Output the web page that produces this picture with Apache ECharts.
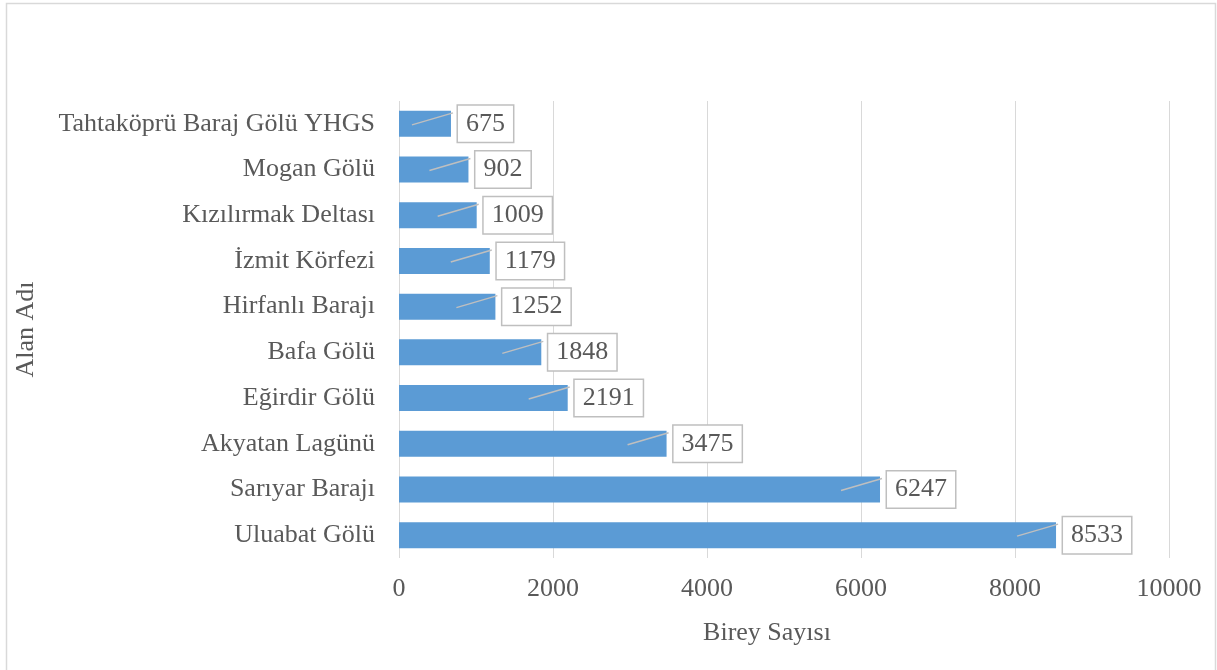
<!DOCTYPE html>
<html>
<head>
<meta charset="utf-8">
<script src="https://cdn.jsdelivr.net/npm/echarts@6/dist/echarts.min.js"></script>
<style>html,body{margin:0;padding:0;background:#fff}#c{width:1217px;height:670px}</style>
</head>
<body>
<div id="c"></div>
<script>
const categories = ["Tahtaköprü Baraj Gölü YHGS","Mogan Gölü","Kızılırmak Deltası","İzmit Körfezi","Hirfanlı Barajı","Bafa Gölü","Eğirdir Gölü","Akyatan Lagünü","Sarıyar Barajı","Uluabat Gölü"];
const values = [675, 902, 1009, 1179, 1252, 1848, 2191, 3475, 6247, 8533];
const xTicks = [0, 2000, 4000, 6000, 8000, 10000];
const xName = "Birey Sayısı";
const yName = "Alan Adı";

const FONT = "'Liberation Serif','Times New Roman',serif";
const TXT = "#595959";
const FS = 26;
const chart = echarts.init(document.getElementById('c'));
chart.setOption({
  animation: false,
  graphic: [{type:'rect', shape:{x:6.5,y:3.5,width:1209,height:690}, style:{fill:'none',stroke:'#d9d9d9',lineWidth:1.5}, silent:true}],
  grid: {left: 399, right: 48, top: 101, bottom: 112},
  xAxis: {
    type: 'value', min: xTicks[0], max: xTicks[xTicks.length-1], interval: 2000,
    axisLine: {show:false}, axisTick: {show:false},
    splitLine: {lineStyle:{color:'#d9d9d9', width:1}},
    axisLabel: {color: TXT, fontFamily: FONT, fontSize: FS, margin: 18, formatter: v => String(v)},
    name: xName, nameLocation: 'middle', nameGap: 62,
    nameTextStyle: {color: TXT, fontFamily: FONT, fontSize: FS, padding:[0,34,0,0]}
  },
  yAxis: {
    type: 'category', data: categories, inverse: true,
    axisLine: {show:false}, axisTick: {show:false},
    axisLabel: {color: TXT, fontFamily: FONT, fontSize: FS, margin: 24},
    name: yName, nameLocation: 'middle', nameGap: 360, nameRotate: 90,
    nameTextStyle: {color: TXT, fontFamily: FONT, fontSize: FS}
  },
  series: [{
    type: 'bar', data: values, barCategoryGap: '43%',
    itemStyle: {color: '#5b9bd5'},
    label: {show: true, position: 'right', distance: 7, color: TXT, fontFamily: FONT, fontSize: FS,
      backgroundColor: '#fff', borderColor: '#bfbfbf', borderWidth: 1.5, padding: [6, 8, 4, 8]}
  }, {
    type: 'custom', data: values.map((v,i)=>[v,i]), z: 5, silent: true,
    renderItem: function(params, api){
      const p = api.coord([api.value(0), api.value(1)]);
      return {type:'line', shape:{x1:p[0]-39, y1:p[1]+1, x2:p[0]+2, y2:p[1]-11},
        style:{stroke:'#bfbfbf', lineWidth:1.5}};
    }
  }]
});
</script>
</body>
</html>
